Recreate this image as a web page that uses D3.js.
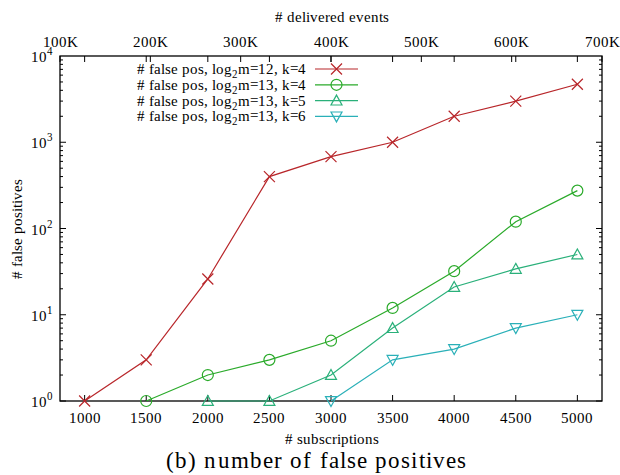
<!DOCTYPE html>
<html>
<head>
<meta charset="utf-8">
<script src="https://cdn.jsdelivr.net/npm/d3@7"></script>
<style>
  @font-face { font-family: "PlotSerif"; src: local("Liberation Serif"), local("LiberationSerif"), local("Nimbus Roman"), local("FreeSerif"), local("Tinos"); }
  svg text { font-family: "PlotSerif", "Nimbus Roman", "FreeSerif", "Tinos", "Liberation Serif", "Times New Roman", Times; }
</style>
</head>
<body style="margin:0">
<script>
const subs = [1000, 1500, 2000, 2500, 3000, 3500, 4000, 4500, 5000];
const fp12k4 = [1, 3, 26, 400, 680, 1000, 2000, 3000, 4700];
const fp13k4 = [null, 1, 2, 3, 5, 12, 32, 120, 275];
const fp13k5 = [null, null, 1, 1, 2, 7, 21, 34, 50];
const fp13k6 = [null, null, null, null, 1, 3, 4, 7, 10];
const xTicks = [1000, 1500, 2000, 2500, 3000, 3500, 4000, 4500, 5000];
const x2Ticks = [100, 200, 300, 400, 500, 600, 700];
const yTicks = [0, 1, 2, 3, 4];

const series = [
  { label: "12", k: 4, values: fp12k4, color: "#b8262a", shape: "x" },
  { label: "13", k: 4, values: fp13k4, color: "#2aaa2a", shape: "circle" },
  { label: "13", k: 5, values: fp13k5, color: "#2ab07a", shape: "tri" },
  { label: "13", k: 6, values: fp13k6, color: "#2ab0b8", shape: "itri" }
];

const W = 620, H = 475;
const L = 60, R = 602, T = 56, B = 401;

const svg = d3.select("body").append("svg")
  .attr("width", W).attr("height", H);

function txt(xp, yp, size, anchor) {
  return svg.append("text").attr("x", xp).attr("y", yp)
    .attr("text-anchor", anchor || "middle")
    .style("font-size", size + "px");
}

const x = d3.scaleLinear().domain([800, 5200]).range([L, R]);
const x2 = d3.scaleLinear().domain([100, 700]).range([L, R]);
const y = d3.scaleLog().domain([1, 10000]).range([B, T]);

// ticks
const g = svg.append("g").attr("stroke", "#000").attr("stroke-width", 1);
xTicks.forEach(v => {
  g.append("line").attr("x1", x(v)).attr("x2", x(v)).attr("y1", B).attr("y2", B - 6);
  g.append("line").attr("x1", x(v)).attr("x2", x(v)).attr("y1", T).attr("y2", T + 6);
});
x2Ticks.forEach(v => {
  g.append("line").attr("x1", x2(v)).attr("x2", x2(v)).attr("y1", T).attr("y2", T + 6);
});
for (let e = 0; e < 4; e++) {
  for (let m = 1; m < 10; m++) {
    const v = m * Math.pow(10, e);
    const len = m === 1 ? 6 : 3;
    g.append("line").attr("x1", L).attr("x2", L + len).attr("y1", y(v)).attr("y2", y(v));
    g.append("line").attr("x1", R).attr("x2", R - len).attr("y1", y(v)).attr("y2", y(v));
  }
}

svg.append("rect").attr("x", L).attr("y", T).attr("width", R - L).attr("height", B - T)
  .attr("fill", "none").attr("stroke", "#000").attr("stroke-width", 1.3);

// tick labels
xTicks.forEach(v => txt(x(v), B + 22, 15).text(v));
x2Ticks.forEach(v => txt(x2(v), T - 9, 15).text(v + "K"));
yTicks.forEach(e => {
  const t = txt(L - 7, y(Math.pow(10, e)) + 6, 15, "end");
  t.append("tspan").text("10");
  t.append("tspan").attr("dy", -7).style("font-size", "11px").text(e);
});

// axis titles
txt(332, 22, 15).text("# delivered events");
txt(332, 444, 15).text("# subscriptions");
txt(0, 0, 15).attr("transform", `translate(22,${(T + B) / 2}) rotate(-90)`).text("# false positives");
txt(316, 468, 23).attr("textLength", 300).attr("lengthAdjust", "spacing")
  .text("(b) number of false positives");

function marker(sel, shape, color) {
  const s = 5.5;
  let d;
  if (shape === "circle") {
    sel.append("circle").attr("r", s).attr("stroke", color).attr("stroke-width", 1.2).attr("fill", "none");
    return;
  }
  if (shape === "x") d = `M${-s},${-s}L${s},${s}M${-s},${s}L${s},${-s}`;
  else if (shape === "tri") d = `M0,${-s}L${s},${s * 0.8}L${-s},${s * 0.8}Z`;
  else d = `M0,${s}L${s},${-s * 0.8}L${-s},${-s * 0.8}Z`;
  sel.append("path").attr("d", d)
    .attr("stroke", color).attr("stroke-width", 1.2).attr("fill", "none");
}

const line = d3.line().defined(d => d[1] != null).x(d => x(d[0])).y(d => y(d[1]));

series.forEach((s, i) => {
  const pts = subs.map((v, j) => [v, s.values[j]]);
  svg.append("path").datum(pts).attr("d", line)
    .attr("fill", "none").attr("stroke", s.color).attr("stroke-width", 1.2);
  pts.filter(d => d[1] != null).forEach(d => {
    marker(svg.append("g").attr("transform", `translate(${x(d[0])},${y(d[1])})`), s.shape, s.color);
  });

  // legend
  const ly = 69 + i * 15.8;
  const t = txt(306, ly + 5, 15, "end");
  t.append("tspan").text("# false pos, log");
  t.append("tspan").attr("dy", 4).style("font-size", "11px").text("2");
  t.append("tspan").attr("dy", -4).text(`m=${s.label}, k=${s.k}`);
  svg.append("line").attr("x1", 315).attr("x2", 358).attr("y1", ly).attr("y2", ly)
    .attr("stroke", s.color).attr("stroke-width", 1.2);
  marker(svg.append("g").attr("transform", `translate(336.5,${ly})`), s.shape, s.color);
});
</script>
</body>
</html>
